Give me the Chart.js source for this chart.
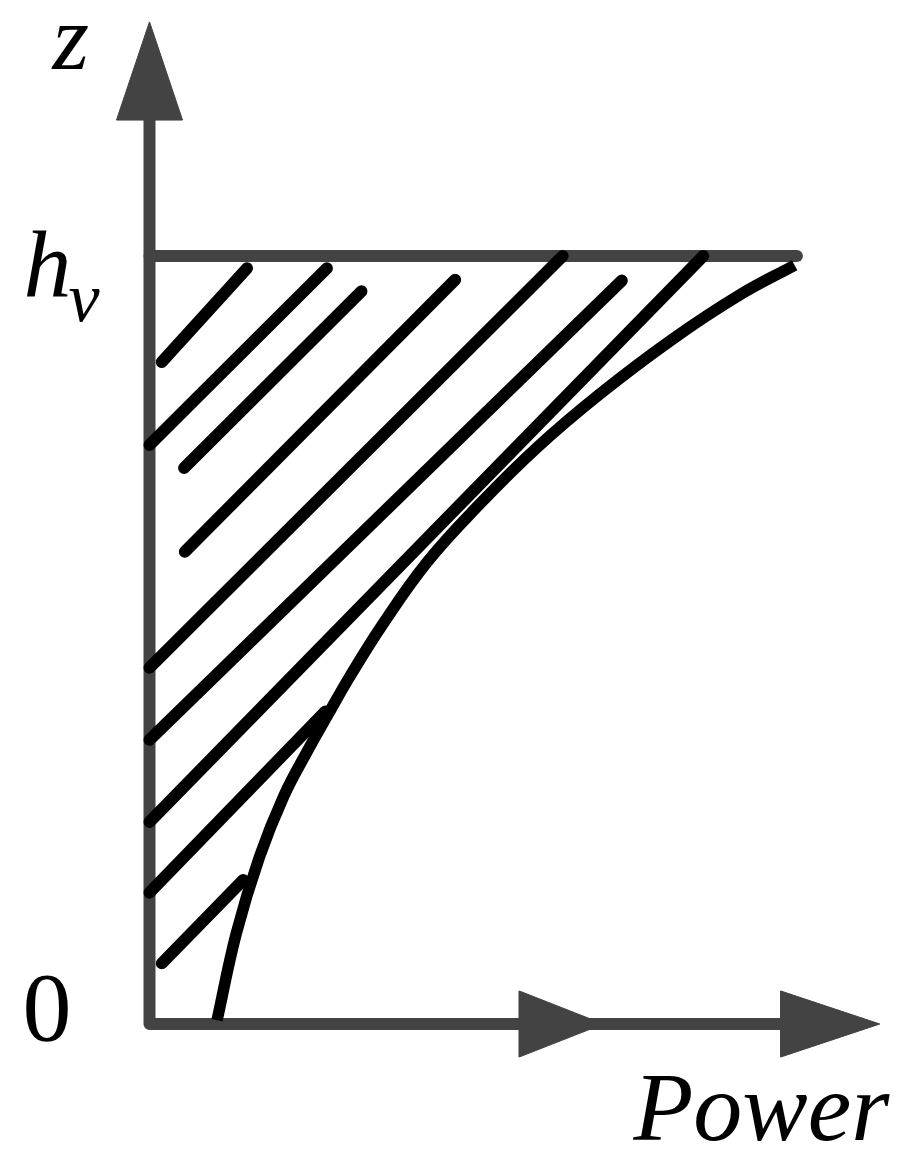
<!DOCTYPE html>
<html>
<head>
<meta charset="utf-8">
<script src="https://cdn.jsdelivr.net/npm/chart.js@4"></script>
<style>
  body { margin: 0; background: #fff; }
  #wrap { width: 922px; height: 1172px; }
</style>
</head>
<body>
<div id="wrap"><canvas id="chart"></canvas></div>
<script>
// Высота слоя hv = 1, мощность в тех же единицах
const hv = 1;
const zMax = 1.305;
const powerMax = 0.951;
const pad = 0.06; // запас под наконечники стрелок

// Кривая мощности по высоте
const curvePower = [0.088, 0.113, 0.143, 0.175, 0.206, 0.233, 0.260, 0.302, 0.362, 0.430, 0.505, 0.586, 0.680, 0.768, 0.840];
const curveHeight = [0.005, 0.118, 0.217, 0.297, 0.356, 0.404, 0.451, 0.518, 0.602, 0.677, 0.751, 0.820, 0.891, 0.949, 0.988];

// Штриховка: начало и конец каждого отрезка
const hatchX0 = [0.016, 0.000, 0.045, 0.046, 0.000, 0.000, 0.000, 0.000, 0.016];
const hatchZ0 = [0.862, 0.754, 0.724, 0.615, 0.464, 0.370, 0.263, 0.171, 0.079];
const hatchX1 = [0.127, 0.231, 0.276, 0.398, 0.538, 0.615, 0.721, 0.229, 0.122];
const hatchZ1 = [0.984, 0.984, 0.954, 0.969, 1.000, 0.968, 1.000, 0.407, 0.1875];

// Стрелки осей
const zArrowBase = 1.177;
const powerArrowBase = [0.4815, 0.822];
const powerArrowTip = [0.591, 0.951];
const arrowHalf = 0.043;

const gray = "#434343";
const black = "#000000";
const unit = 768; // пикселей на единицу

function seg(points, color, width, extra) {
  return Object.assign({
    data: points,
    showLine: true,
    borderColor: color,
    borderWidth: width,
    borderCapStyle: "round",
    borderJoinStyle: "round",
    pointRadius: 0,
    fill: false,
  }, extra || {});
}

function tri(points) {
  return {
    data: points,
    showLine: true,
    borderColor: gray,
    backgroundColor: gray,
    borderWidth: 1,
    pointRadius: 0,
    fill: "shape",
    order: 3,
  };
}

const datasets = [];

// Оси и линия hv
datasets.push(seg([{ x: 0, y: zArrowBase + 0.02 }, { x: 0, y: 0 }, { x: powerArrowBase[1] + 0.02, y: 0 }], gray, 12, { order: 3, borderCapStyle: "butt" }));
datasets.push(seg([{ x: 0, y: hv }, { x: 0.843, y: hv }], gray, 12, { order: 3 }));

// Наконечники стрелок
datasets.push(tri([
  { x: -arrowHalf, y: zArrowBase }, { x: 0, y: zMax }, { x: arrowHalf, y: zArrowBase }, { x: -arrowHalf, y: zArrowBase },
]));
powerArrowBase.forEach((b, i) => {
  datasets.push(tri([
    { x: b, y: -arrowHalf }, { x: powerArrowTip[i], y: 0 }, { x: b, y: arrowHalf }, { x: b, y: -arrowHalf },
  ]));
});

// Штриховка
hatchX0.forEach((x0, i) => {
  datasets.push(seg([{ x: x0, y: hatchZ0[i] }, { x: hatchX1[i], y: hatchZ1[i] }], black, 12, { order: 1 }));
});

// Кривая
datasets.push(seg(curvePower.map((p, i) => ({ x: p, y: curveHeight[i] })), black, 11.5, {
  order: 1,
  borderCapStyle: "butt",
  tension: 0.4,
}));

// Подписи
const labelPlugin = {
  id: "labels",
  afterDatasetsDraw(chart) {
    const { ctx, scales } = chart;
    const x0 = scales.x.getPixelForValue(0);
    const y0 = scales.y.getPixelForValue(0);
    const yTop = scales.y.getPixelForValue(zMax);
    const yHv = scales.y.getPixelForValue(hv);
    ctx.save();
    ctx.fillStyle = "#000";
    ctx.textBaseline = "alphabetic";
    ctx.textAlign = "left";
    ctx.font = 'italic 94px "Liberation Serif"';
    ctx.fillText("z", x0 - 97, yTop + 47);
    ctx.font = 'italic 96px "Liberation Serif"';
    ctx.fillText("h", x0 - 126, yHv + 41);
    ctx.font = 'italic 70px "Liberation Serif"';
    ctx.fillText("v", x0 - 81, yHv + 65);
    ctx.font = '98px "Liberation Serif"';
    ctx.fillText("0", x0 - 127, y0 + 16);
    ctx.font = 'italic 98px "Liberation Serif"';
    ctx.fillText("Power", x0 + 484, y0 + 116);
    ctx.restore();
  },
};

new Chart(document.getElementById("chart").getContext("2d"), {
  type: "scatter",
  data: { datasets: datasets },
  options: {
    responsive: true,
    maintainAspectRatio: false,
    animation: false,
    events: [],
    layout: {
      padding: {
        left: 149.5 - pad * unit,
        right: 922 - 149.5 - powerMax * unit,
        top: 1024 - zMax * unit,
        bottom: 148 - pad * unit,
      },
    },
    scales: {
      x: { type: "linear", min: -pad, max: powerMax, display: false },
      y: { type: "linear", min: -pad, max: zMax, display: false },
    },
    plugins: {
      legend: { display: false },
      tooltip: { enabled: false },
      filler: { drawTime: "beforeDatasetsDraw" },
    },
  },
  plugins: [labelPlugin],
});
</script>
</body>
</html>
